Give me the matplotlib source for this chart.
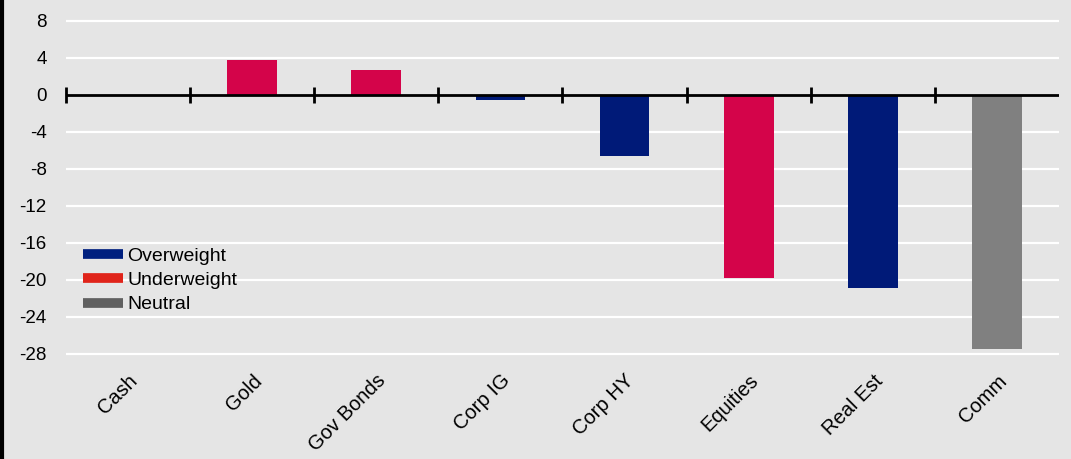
import matplotlib
matplotlib.use('Agg')
import matplotlib.pyplot as plt
from matplotlib.lines import Line2D
import numpy as np

plt.rcParams['font.family'] = ['Liberation Sans', 'DejaVu Sans']
plt.rcParams['axes.unicode_minus'] = False

categories = ['Cash', 'Gold', 'Gov Bonds', 'Corp IG', 'Corp HY', 'Equities', 'Real Est', 'Comm']
values = [0.0, 3.8, 2.7, -0.5, -6.6, -19.8, -20.9, -27.5]
stance = ['Neutral', 'Underweight', 'Underweight', 'Overweight', 'Overweight',
          'Underweight', 'Overweight', 'Neutral']
yticks = list(range(-28, 9, 4))

bar_colors = {'Overweight': '#001a78', 'Underweight': '#d4044a', 'Neutral': '#808080'}
legend_colors = {'Overweight': '#00207f', 'Underweight': '#e0241a', 'Neutral': '#606060'}
bg = '#e5e5e5'

fig = plt.figure(figsize=(10.71, 4.59), dpi=100, facecolor=bg)
ax = fig.add_axes([0.0616, 0.2187, 0.9272, 0.7457], facecolor=bg)

x = np.arange(len(categories))
ax.bar(x, values, width=0.4, color=[bar_colors[s] for s in stance], zorder=3)

ax.set_xlim(-0.5, len(categories) - 0.5)
ax.set_ylim(-28.5, 8.5)
ax.set_yticks(yticks)
ax.set_yticklabels([str(t) for t in yticks])
for t in yticks:
    if t != 0:
        ax.axhline(t, color='white', lw=1.6, zorder=1)

# zero axis line with category-boundary ticks
ax.axhline(0, color='black', lw=2, zorder=4)
bounds = np.arange(len(categories)) - 0.5
ax.plot(bounds, np.zeros_like(bounds), ls='none', marker='|', ms=11, mew=2,
        color='black', zorder=5, clip_on=False)

ax.set_xticks(x)
ax.set_xticklabels(categories, rotation=45, ha='right', rotation_mode='anchor')
ax.tick_params(axis='x', length=0, pad=9, labelsize=14.5)
ax.tick_params(axis='y', length=0, pad=14, labelsize=13.5)
for s in ax.spines.values():
    s.set_visible(False)

handles = [Line2D([], [], color=legend_colors[k], lw=7, solid_capstyle='butt')
           for k in ['Overweight', 'Underweight', 'Neutral']]
ax.legend(handles, ['Overweight', 'Underweight', 'Neutral'], loc='upper left',
          bbox_to_anchor=(0.017, 0.326), frameon=False, fontsize=14,
          handlelength=2.05, handletextpad=0.25, labelspacing=0.35,
          borderpad=0, borderaxespad=0)

fig.add_artist(Line2D([0.0015, 0.0015], [0, 1], transform=fig.transFigure,
                      color='black', lw=3))

fig.savefig('out.png', dpi=100, facecolor=bg)
